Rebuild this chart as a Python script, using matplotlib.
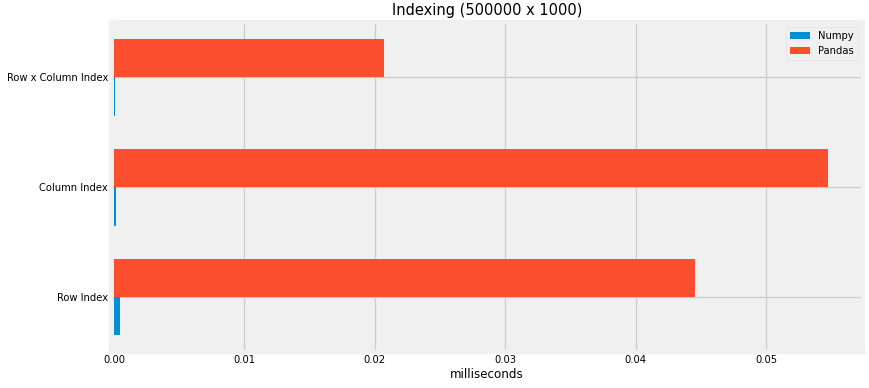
import matplotlib
matplotlib.use("Agg")
import matplotlib.pyplot as plt
import pandas as pd

# timings (milliseconds)
categories = ["Row Index", "Column Index", "Row x Column Index"]
numpy_ms = [0.00047, 0.00016, 0.00008]
pandas_ms = [0.04453, 0.05471, 0.0207]

plt.style.use("fivethirtyeight")
plt.rcParams["font.family"] = ["DejaVu Sans"]

df = pd.DataFrame({"Numpy": numpy_ms, "Pandas": pandas_ms}, index=categories)

fig = plt.figure(figsize=(8.7, 3.88), dpi=100, facecolor="white")
ax = fig.add_axes([0.1276, 0.0928, 0.8640, 0.8502])
df.plot.barh(ax=ax, width=0.7, color=["#008fd5", "#fc4f30"])

ax.set_facecolor("#f0f0f0")
ax.set_xlim(-0.00023, 0.05739)
ax.set_ylim(-0.5, 2.5)
ax.set_xticks([0.0, 0.01, 0.02, 0.03, 0.04, 0.05])
ax.set_title("Indexing (500000 x 1000)", fontsize=10.5, pad=5)
ax.set_xlabel("milliseconds", fontsize=8.6, labelpad=2)
ax.tick_params(axis="both", labelsize=7.2, pad=2)
ax.grid(True, color="#cbcbcb", linewidth=0.9)
ax.set_axisbelow(True)
# no grid line drawn at zero in the original
ax.xaxis.get_major_ticks()[0].gridline.set_visible(False)
leg = ax.legend(loc="upper right", fontsize=7.2, frameon=True)
leg.get_frame().set_facecolor("#f0f0f0")
leg.get_frame().set_edgecolor("#dddddd")

fig.savefig("out.png", dpi=100, facecolor="white")
